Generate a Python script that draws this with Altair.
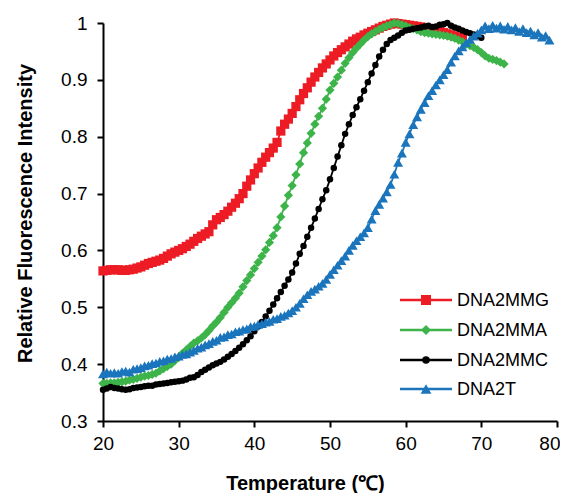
import altair as alt
import pandas as pd

SERIES = ["DNA2MMG", "DNA2MMA", "DNA2MMC", "DNA2T"]
COLORS = ["#ED1C24", "#3CB44A", "#000000", "#1B75BC"]
SHAPES = ["square", "diamond", "circle", "triangle-up"]
SIZES = [85, 85, 42, 100]

TEMPS = [20, 20.5, 21, 21.5, 22, 22.5, 23, 23.5, 24, 24.5, 25, 25.5, 26, 26.5, 27, 27.5,
         28, 28.5, 29, 29.5, 30, 30.5, 31, 31.5, 32, 32.5, 33, 33.5, 34, 34.5, 35, 35.5,
         36, 36.5, 37, 37.5, 38, 38.5, 39, 39.5, 40, 40.5, 41, 41.5, 42, 42.5, 43, 43.5,
         44, 44.5, 45, 45.5, 46, 46.5, 47, 47.5, 48, 48.5, 49, 49.5, 50, 50.5, 51, 51.5,
         52, 52.5, 53, 53.5, 54, 54.5, 55, 55.5, 56, 56.5, 57, 57.5, 58, 58.5, 59, 59.5,
         60, 60.5, 61, 61.5, 62, 62.5, 63, 63.5, 64, 64.5, 65, 65.5, 66, 66.5, 67, 67.5,
         68, 68.5, 69, 69.5, 70, 70.5, 71, 71.5, 72, 72.5, 73, 73.5, 74, 74.5, 75, 75.5,
         76, 76.5, 77, 77.5, 78, 78.5, 79]

DNA2MMG = [.564, .565, .566, .566, .566, .565, .565, .566, .567, .569, .571, .574, .577, .579, .581, .583,
           .586, .590, .594, .597, .600, .603, .607, .611, .616, .621, .625, .629, .633, .645, .654, .658,
           .663, .669, .676, .683, .691, .700, .713, .724, .735, .745, .755, .764, .772, .780, .790, .810,
           .822, .831, .841, .853, .865, .876, .886, .896, .905, .913, .921, .928, .935, .942, .948, .953,
           .958, .963, .968, .972, .975, .979, .982, .985, .988, .991, .994, .996, .998, 1.0, .999, .998,
           .997, .996, .995, .994, .993, .991, .990, .988, .987, .985, .983, .981, .979, .977, .975, .973]

DNA2MMA = [.366, .366, .367, .367, .368, .369, .370, .372, .373, .375, .377, .379, .380, .382, .384, .388,
           .392, .396, .400, .406, .412, .419, .425, .431, .437, .441, .446, .452, .459, .467, .474, .482,
           .491, .500, .508, .516, .525, .536, .547, .557, .568, .579, .590, .601, .614, .626, .640, .659,
           .678, .697, .714, .733, .752, .772, .789, .806, .822, .836, .850, .866, .882, .894, .905, .917,
           .929, .939, .948, .956, .963, .970, .976, .981, .985, .989, .992, .995, .997, 1.0, .999, .997,
           .995, .992, .990, .988, .985, .983, .982, .981, .980, .979, .978, .977, .975, .973, .970, .967,
           .963, .960, .957, .953, .948, .942, .938, .936, .934, .931, .928]

DNA2MMC = [.355, .357, .360, .358, .357, .356, .355, .356, .358, .359, .360, .361, .362, .362, .364, .365,
           .366, .367, .368, .369, .370, .371, .373, .376, .377, .381, .386, .390, .394, .398, .401, .404,
           .408, .413, .418, .423, .429, .435, .442, .449, .458, .466, .474, .484, .494, .505, .516, .527,
           .538, .549, .561, .577, .594, .608, .624, .640, .656, .673, .690, .706, .725, .745, .765, .785,
           .805, .822, .838, .852, .866, .881, .896, .911, .926, .941, .953, .963, .970, .974, .978, .983,
           .987, .988, .990, .991, .992, .994, .995, .993, .994, .997, .998, 1.0, .995, .992, .990, .987,
           .984, .982, .980, .977, .974]

DNA2T = [.383, .386, .384, .385, .384, .387, .388, .386, .391, .392, .394, .397, .398, .401, .402, .405,
         .406, .409, .410, .413, .414, .417, .418, .421, .424, .428, .430, .434, .436, .440, .442, .447,
         .448, .452, .453, .457, .458, .461, .462, .466, .467, .470, .471, .474, .475, .479, .480, .484,
         .486, .490, .494, .500, .507, .515, .522, .528, .532, .537, .542, .549, .558, .566, .574, .582,
         .590, .600, .609, .617, .624, .631, .640, .655, .670, .681, .692, .703, .716, .734, .755, .771,
         .790, .805, .821, .835, .848, .860, .872, .881, .891, .900, .909, .918, .931, .942, .951, .958,
         .965, .971, .977, .982, .988, .995, .990, .996, .991, .995, .989, .994, .988, .992, .985, .990,
         .983, .986, .979, .983, .975, .978, .970]

VALUES = [DNA2MMG, DNA2MMA, DNA2MMC, DNA2T]
LEGEND_Y = [277, 307, 337, 366]

FONT = "Liberation Sans"

xscale = alt.Scale(domain=[20, 80], nice=False, zero=False)
yscale = alt.Scale(domain=[0.3, 1.0], nice=False, zero=False)

x_axis = alt.Axis(values=[20, 30, 40, 50, 60, 70, 80], title="Temperature (\u2103)",
                  titleX=202, titleY=62, titleBaseline="middle", titleAnchor="start",
                  titleAlign="center", labelPadding=7, labelFlush=False,
                  labelAlign={"condition": {"test": "datum.value == 80", "value": "right"},
                              "value": "center"},
                  labelOffset={"condition": {"test": "datum.value == 80", "value": 3},
                               "value": 0})
y_axis = alt.Axis(values=[0.3, 0.4, 0.5, 0.6, 0.7, 0.8, 0.9, 1.0], format=".1~f",
                  title="Relative Fluorescence Intensity", titleX=-78, titleY=190,
                  titleBaseline="middle", titleAlign="center", titleAnchor="start",
                  labelPadding=10, labelFlush=False)

layers = []
for i, name in enumerate(SERIES):
    vals = VALUES[i]
    df = pd.DataFrame({"Temperature": TEMPS[:len(vals)], "Intensity": vals, "Series": name})
    base = alt.Chart(df).encode(
        x=alt.X("Temperature:Q", scale=xscale, axis=x_axis),
        y=alt.Y("Intensity:Q", scale=yscale, axis=y_axis),
    )
    layers.append(base.mark_line(color=COLORS[i], strokeWidth=1.8))
    layers.append(base.mark_point(filled=True, shape=SHAPES[i], size=SIZES[i],
                                  color=COLORS[i], opacity=1))

for i, name in enumerate(SERIES):
    ld = pd.DataFrame({"label": [name]})
    lb = alt.Chart(ld)
    yv = LEGEND_Y[i]
    layers.append(lb.mark_rule(color=COLORS[i], strokeWidth=2.5).encode(
        x=alt.value(297), x2=alt.value(349), y=alt.value(yv)))
    layers.append(lb.mark_point(filled=True, shape=SHAPES[i], size=SIZES[i] + 15,
                                color=COLORS[i], opacity=1).encode(
        x=alt.value(323), y=alt.value(yv)))
    layers.append(lb.mark_text(align="left", baseline="middle", fontSize=18, font=FONT,
                               color="#000000").encode(
        x=alt.value(354), y=alt.value(yv + 1), text="label:N"))

chart = alt.layer(*layers).properties(
    width=454, height=398,
    autosize=alt.AutoSizeParams(type="none"),
    padding={"left": 95, "top": 15, "right": 3, "bottom": 72},
).configure_view(stroke=None).configure_axis(
    grid=False, domainColor="#000000", domainWidth=2, tickColor="#000000",
    tickWidth=2, tickSize=6, labelColor="#000000", labelFont=FONT, labelFontSize=19,
    titleFont=FONT, titleFontSize=20, titleFontWeight="bold", titleColor="#000000",
)

chart.save("out.html", embed_options={"renderer": "svg", "actions": False})
